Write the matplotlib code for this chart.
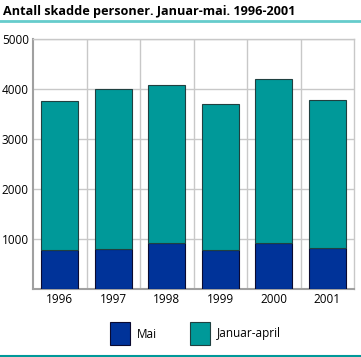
import matplotlib
matplotlib.use("Agg")
import matplotlib.pyplot as plt
from matplotlib.patches import Rectangle
from matplotlib.lines import Line2D
import numpy as np

years = ["1996", "1997", "1998", "1999", "2000", "2001"]
mai = [775, 795, 913, 775, 913, 813]
totals = [3770, 4010, 4070, 3710, 4205, 3790]
jan_apr = [t - m for t, m in zip(totals, mai)]
yticks = [1000, 2000, 3000, 4000, 5000]

c_mai = "#003399"
c_jan = "#009999"
grid_c = "#c8c8c8"

plt.rcParams['font.family'] = ['Open Sans', 'DejaVu Sans']

W, H = 361, 357
fig = plt.figure(figsize=(W/100, H/100), dpi=100)
ax = fig.add_axes([33/W, 1-289/H, 321/W, 250/H])

x = np.arange(len(years))
ax.bar(x, mai, width=0.7, color=c_mai, edgecolor="#0a0a30", linewidth=0.8, zorder=3)
ax.bar(x, jan_apr, bottom=mai, width=0.7, color=c_jan, edgecolor="#204040", linewidth=0.8, zorder=3)

ax.set_xlim(-0.5, len(years)-0.5)
ax.set_ylim(0, 5000)
ax.set_yticks(yticks)
ax.set_yticklabels([str(v) for v in yticks], fontsize=8.5)
ax.set_xticks(x)
ax.set_xticklabels(years, fontsize=8.5)
ax.set_xticks(np.arange(0.5, len(years)-0.5, 1), minor=True)
ax.tick_params(axis='both', length=0, pad=3)
ax.tick_params(axis='x', which='minor', length=0)
ax.grid(axis='y', color=grid_c, linewidth=1, zorder=0)
ax.grid(axis='x', which='minor', color=grid_c, linewidth=1, zorder=0)
ax.grid(axis='x', which='major', visible=False)
for s in ax.spines.values():
    s.set_color(grid_c)
    s.set_linewidth(1)
ax.spines['left'].set_color("#a0a0a0")
ax.spines['bottom'].set_color("#a0a0a0")
ax.spines['left'].set_linewidth(1.5)
ax.spines['bottom'].set_linewidth(1.5)

fig.text(3/W, 1-12/H, "Antall skadde personer. Januar-mai. 1996-2001",
         fontsize=9.1, fontweight='bold', va='center', ha='left')
fig.add_artist(Line2D([0, 1], [1-21/H, 1-21/H], color="#66cccc", linewidth=2, transform=fig.transFigure))
fig.add_artist(Line2D([0, 1], [1-355.5/H, 1-355.5/H], color="#009999", linewidth=1.5, transform=fig.transFigure))

# legend
fig.add_artist(Rectangle((110/W, 1-345/H), 20/W, 23/H, facecolor=c_mai, edgecolor="#0a0a30",
                         linewidth=0.8, transform=fig.transFigure))
fig.text(137/W, 1-334/H, "Mai", fontsize=8.5, va='center', ha='left')
fig.add_artist(Rectangle((190/W, 1-345/H), 20/W, 23/H, facecolor=c_jan, edgecolor="#204040",
                         linewidth=0.8, transform=fig.transFigure))
fig.text(217/W, 1-334/H, "Januar-april", fontsize=8.5, va='center', ha='left')

fig.savefig("out.png", dpi=100)
